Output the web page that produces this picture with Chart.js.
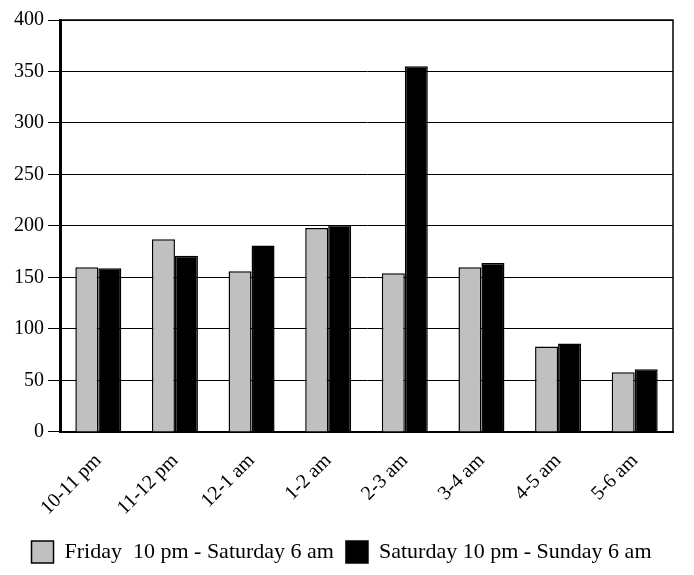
<!DOCTYPE html>
<html><head><meta charset="utf-8">
<script src="https://cdn.jsdelivr.net/npm/chart.js@4"></script>
<style>html,body{margin:0;padding:0;background:#fff}#wrap{width:694px;height:575px}</style>
</head><body><div id="wrap"><canvas id="c" width="694" height="575"></canvas></div>
<script>
const categories = ["10-11 pm","11-12 pm","12-1 am","1-2 am","2-3 am","3-4 am","4-5 am","5-6 am"];
const friday = [160,187,156,198,154,160,83,58];
const saturday = [159,171,181,201,355,164,86,61];
const seriesNames = ["Friday  10 pm - Saturday 6 am","Saturday 10 pm - Sunday 6 am"];

const frame = {
  id:'frame',
  afterDatasetsDraw(chart){
    const {ctx, chartArea:a} = chart;
    ctx.save();
    ctx.strokeStyle='#000';
    ctx.lineWidth=1.5;
    ctx.beginPath();
    ctx.moveTo(a.left,a.top);ctx.lineTo(a.right,a.top);ctx.lineTo(a.right,a.bottom);
    ctx.stroke();
    ctx.restore();
  }
};

new Chart(document.getElementById('c'),{
  type:'bar',
  data:{labels:categories,datasets:[
    {label:seriesNames[0],data:friday,backgroundColor:'#c0c0c0',borderColor:'#000',borderWidth:1.5},
    {label:seriesNames[1],data:saturday,backgroundColor:'#000',borderColor:'#000',borderWidth:1.5}
  ]},
  options:{
    responsive:false,animation:false,
    layout:{padding:{left:10,right:21,top:20,bottom:2}},
    datasets:{bar:{categoryPercentage:0.6,barPercentage:1.0}},
    plugins:{
      legend:{position:'bottom',labels:{boxWidth:22,boxHeight:22,color:'#000',padding:12,font:{family:'Liberation Serif',size:22}}},
      tooltip:{enabled:false}
    },
    scales:{
      x:{grid:{display:false},border:{display:true,color:'#000',width:2},
         ticks:{color:'#000',minRotation:45,maxRotation:45,padding:9,font:{family:'Liberation Serif',size:20}}},
      y:{min:0,max:400,ticks:{stepSize:50,color:'#000',padding:4,font:{family:'Liberation Serif',size:20}},
         grid:{color:'#000',lineWidth:1,tickLength:12,drawTicks:true},
         border:{display:true,color:'#000',width:3}}
    }
  },
  plugins:[frame]
});
</script></body></html>
